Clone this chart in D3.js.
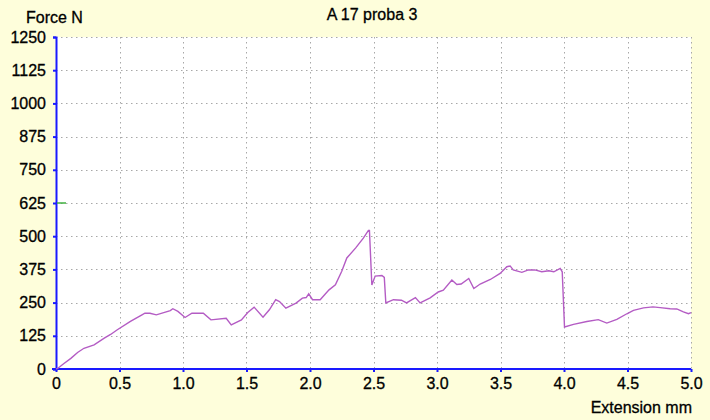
<!DOCTYPE html>
<html>
<head>
<meta charset="utf-8">
<script src="https://cdn.jsdelivr.net/npm/d3@7"></script>
<style>
	body { margin: 0; background: #fefedb; }
	svg { display: block; font-family: "Liberation Sans", Arial, sans-serif; }
	text { stroke: #000; stroke-width: 0.3px; }
</style>
</head>
<body>
<svg width="710" height="420"></svg>
<script>
// extension (mm) and force (N)
const extension = [
	0, 0.013, 0.06, 0.117, 0.17, 0.22, 0.3, 0.38, 0.43, 0.48, 0.586, 0.677, 0.7, 0.74,
	0.79, 0.9, 0.92, 0.96, 1.016, 1.07, 1.16, 1.22, 1.34, 1.38, 1.46, 1.51, 1.56, 1.63,
	1.68, 1.73, 1.76, 1.81, 1.89, 1.94, 1.97, 1.99, 2.02, 2.08, 2.15, 2.2, 2.25, 2.29,
	2.36, 2.42, 2.46, 2.468, 2.487, 2.513, 2.566, 2.585, 2.597, 2.657, 2.72, 2.76,
	2.83, 2.867, 2.946, 3.01, 3.05, 3.117, 3.156, 3.19, 3.25, 3.29, 3.34, 3.42, 3.497,
	3.55, 3.576, 3.6, 3.668, 3.72, 3.77, 3.825, 3.88, 3.92, 3.97, 3.986, 4.004, 4.075,
	4.18, 4.27, 4.337, 4.416, 4.495, 4.547, 4.626, 4.7, 4.757, 4.836, 4.888, 4.94,
	4.98, 5.0,
];
const force = [
	0, 2, 20, 40, 62, 78, 91, 116, 130, 147, 179, 204, 210, 210,
	204, 220, 227, 217, 194, 210, 210, 185, 191, 166, 185, 213, 233, 195,
	223, 261, 254, 229, 248, 267, 269, 283, 261, 261, 298, 317, 368, 418,
	456, 493, 522, 522, 316, 350, 352, 345, 249, 261, 259, 249,
	269, 249, 268, 290, 297, 335, 318, 320, 341, 303, 320, 337, 360,
	385, 388, 373, 364, 373, 373, 366, 370, 366, 379, 366, 158, 168,
	179, 186, 173, 187, 208, 221, 230, 234, 231, 227, 226, 215,
	208, 212,
];
const xTicks = [0, 0.5, 1.0, 1.5, 2.0, 2.5, 3.0, 3.5, 4.0, 4.5, 5.0];
const yTicks = [0, 125, 250, 375, 500, 625, 750, 875, 1000, 1125, 1250];
const markerForce = 625;

const svg = d3.select("svg");
const margin = { left: 56, right: 19, top: 37, bottom: 51 };
const width = 710, height = 420;

const x = d3.scaleLinear().domain([0, 5]).range([margin.left, width - margin.right]);
const y = d3.scaleLinear().domain([0, 1250]).range([height - margin.bottom, margin.top]);

svg.append("rect")
	.attr("x", x(0)).attr("y", y(1250))
	.attr("width", x(5) - x(0)).attr("height", y(0) - y(1250))
	.attr("fill", "#ffffff");

// dotted grid
const grid = svg.append("g")
	.attr("stroke", "#a8a8a8")
	.attr("stroke-width", 1)
	.attr("stroke-dasharray", "1.5,3.5");
grid.selectAll(".gx").data(xTicks.slice(1)).join("line")
	.attr("x1", (d) => Math.round(x(d)) + 0.5).attr("x2", (d) => Math.round(x(d)) + 0.5)
	.attr("y1", y(1250)).attr("y2", y(0));
grid.selectAll(".gy").data(yTicks.slice(1)).join("line")
	.attr("x1", x(0)).attr("x2", x(5))
	.attr("y1", (d) => Math.round(y(d)) + 0.5).attr("y2", (d) => Math.round(y(d)) + 0.5);

// axes
const xAxis = svg.append("g")
	.attr("transform", `translate(0,${y(0)})`)
	.call(d3.axisBottom(x).tickValues(xTicks).tickSize(3).tickPadding(6)
		.tickFormat((d) => (d === 0 ? "0" : d3.format(".1f")(d))));
const yAxis = svg.append("g")
	.attr("transform", `translate(${x(0)},0)`)
	.call(d3.axisLeft(y).tickValues(yTicks).tickSize(3).tickPadding(7)
		.tickFormat(d3.format("d")));

[xAxis, yAxis].forEach((a) => {
	a.select(".domain").attr("stroke", "#1a1aff").attr("stroke-width", 2);
	a.selectAll(".tick line").attr("stroke", "#1a1aff").attr("stroke-width", 2);
	a.selectAll(".tick text").attr("fill", "#000").attr("font-size", 16)
		.attr("font-family", "Liberation Sans, Arial, sans-serif");
});
xAxis.select(".domain").attr("d", `M${x(0) - 4},0H${x(5)}`);

// green marker on the y axis
svg.append("line")
	.attr("x1", x(0) + 1).attr("x2", x(0) + 10)
	.attr("y1", y(markerForce)).attr("y2", y(markerForce))
	.attr("stroke", "#40b040").attr("stroke-width", 1.5);

// curve
const line = d3.line().x((d) => x(d[0])).y((d) => y(d[1]));
svg.append("path")
	.datum(extension.map((e, i) => [e, force[i]]))
	.attr("d", line)
	.attr("fill", "none")
	.attr("stroke", "#b45cc4")
	.attr("stroke-width", 1.4);

// labels
svg.append("text").attr("x", 372).attr("y", 20).attr("text-anchor", "middle")
	.attr("font-size", 16).attr("fill", "#000").text("A 17 proba 3");
svg.append("text").attr("x", 26).attr("y", 23)
	.attr("font-size", 16).attr("fill", "#000").text("Force N");
svg.append("text").attr("x", 692).attr("y", 413).attr("text-anchor", "end")
	.attr("font-size", 16).attr("fill", "#000").text("Extension mm");
</script>
</body>
</html>
